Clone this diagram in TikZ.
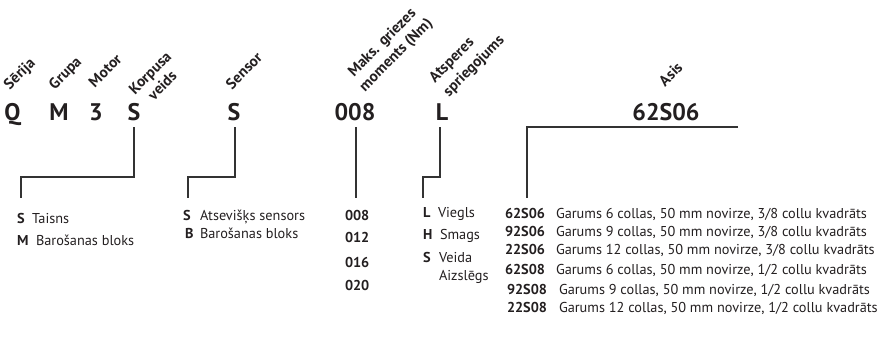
\documentclass[tikz,border=0pt]{standalone}
\usepackage{graphicx}
\usepackage{fontspec}
\setmainfont{PT Sans}
\definecolor{ink}{HTML}{231F20}
\definecolor{wire}{HTML}{333333}
\newcommand{\diaglabel}[1]{\rotatebox{45}{\smash{#1}}}
\begin{document}
\begin{tikzpicture}[x=1pt,y=1pt,
  every node/.style={inner sep=0pt,outer sep=0pt,text=ink},
  code/.style={anchor=base,font=\fontsize{24}{24}\selectfont\bfseries},
  lab/.style={anchor=base west,font=\fontsize{15.2}{16}\selectfont\bfseries},
  key/.style={anchor=base west,font=\fontsize{14.3}{15}\selectfont\bfseries},
  desc/.style={anchor=base west,font=\fontsize{14.3}{15}\selectfont},
  wireline/.style={draw=wire,line width=1.8pt}]
\useasboundingbox (0,0) rectangle (889,-343);
% top codes
\node[code] (cQ) at (12.5,-120) {Q};
\node[code] (cM) at (59,-120) {M};
\node[code] (c3) at (96,-120) {3};
\node[code] (cS) at (134,-120) {S};
\node[code] (cSen) at (234,-120) {S};
\node[code] (cT) at (355,-120) {008};
\node[code] (cL) at (442,-120) {L};
\node[code] (cA) at (666,-120) {62S06};
% rotated labels
\node[lab] (l1) at (10,-90) {\diaglabel{Sērija}};
\node[lab] (l2) at (55,-90) {\diaglabel{Grupa}};
\node[lab] (l3) at (95,-88) {\diaglabel{Motor}};
\node[lab] (l4a) at (135,-95) {\diaglabel{Korpusa}};
\node[lab] (l4b) at (154,-101) {\diaglabel{veids}};
\node[lab] (l5) at (232,-90) {\diaglabel{Sensor}};
\node[lab] (l6a) at (354,-77) {\diaglabel{Maks. griezes}};
\node[lab] (l6b) at (365,-92) {\diaglabel{moments (Nm)}};
\node[lab] (l7a) at (435,-83) {\diaglabel{Atsperes}};
\node[lab] (l7b) at (449,-97) {\diaglabel{spriegojums}};
\node[lab] (l8) at (665,-87) {\diaglabel{Asis}};
% connector coordinates
\coordinate (k0) at (134,-127);
\coordinate (k1) at (134,-177);
\coordinate (k2) at (21,-177);
\coordinate (k3) at (21,-198);
\draw[wireline] (k0) -- (k1) -- (k2) -- (k3);
\coordinate (s0) at (235,-127);
\coordinate (s1) at (235,-177);
\coordinate (s2) at (188,-177);
\coordinate (s3) at (188,-198);
\draw[wireline] (s0) -- (s1) -- (s2) -- (s3);
\coordinate (t0) at (356,-127);
\coordinate (t1) at (356,-198);
\draw[wireline] (t0) -- (t1);
\coordinate (p0) at (440,-127);
\coordinate (p1) at (440,-177);
\coordinate (p2) at (423,-177);
\coordinate (p3) at (423,-198);
\draw[wireline] (p0) -- (p1) -- (p2) -- (p3);
\coordinate (a0) at (738,-127);
\coordinate (a1) at (527,-127);
\coordinate (a2) at (527,-198);
\draw[wireline] (a0) -- (a1) -- (a2);
% housing list
\node[key] (kS) at (17,-223) {S};
\node[desc] (kSd) at (32,-223) {Taisns};
\node[key] (kM) at (17,-245) {M};
\node[desc] (kMd) at (36,-245) {Barošanas bloks};
% sensor list
\node[key] (sS) at (183,-220) {S};
\node[desc] (sSd) at (200,-220) {Atsevišķs sensors};
\node[key] (sB) at (185,-238) {B};
\node[desc] (sBd) at (200,-238) {Barošanas bloks};
% torque list
\node[key] (t008) at (345,-220) {008};
\node[key] (t012) at (345,-242) {012};
\node[key] (t016) at (345,-267) {016};
\node[key] (t020) at (345,-290) {020};
% spring list
\node[key] (pL) at (423,-217) {L};
\node[desc] (pLd) at (438,-217) {Viegls};
\node[key] (pH) at (423,-239) {H};
\node[desc] (pHd) at (440,-239) {Smags};
\node[key] (pS) at (423,-262) {S};
\node[desc] (pSd) at (439,-262) {Veida};
\node[desc] (pSd2) at (439,-280) {Aizslēgs};
% axis list
\node[key] (x1) at (505,-218.3) {62S06};
\node[desc] (x1d) at (556,-218.3) {Garums 6 collas, 50 mm novirze, 3/8 collu kvadrāts};
\node[key] (x2) at (505,-236) {92S06};
\node[desc] (x2d) at (556,-236) {Garums 9 collas, 50 mm novirze, 3/8 collu kvadrāts};
\node[key] (x3) at (505,-254) {22S06};
\node[desc] (x3d) at (556,-254) {Garums 12 collas, 50 mm novirze, 3/8 collu kvadrāts};
\node[key] (x4) at (505,-274.3) {62S08};
\node[desc] (x4d) at (556,-274.3) {Garums 6 collas, 50 mm novirze, 1/2 collu kvadrāts};
\node[key] (x5) at (507,-294.3) {92S08};
\node[desc] (x5d) at (559,-294.3) {Garums 9 collas, 50 mm novirze, 1/2 collu kvadrāts};
\node[key] (x6) at (507,-312.7) {22S08};
\node[desc] (x6d) at (559,-312.7) {Garums 12 collas, 50 mm novirze, 1/2 collu kvadrāts};
\end{tikzpicture}
\end{document}
